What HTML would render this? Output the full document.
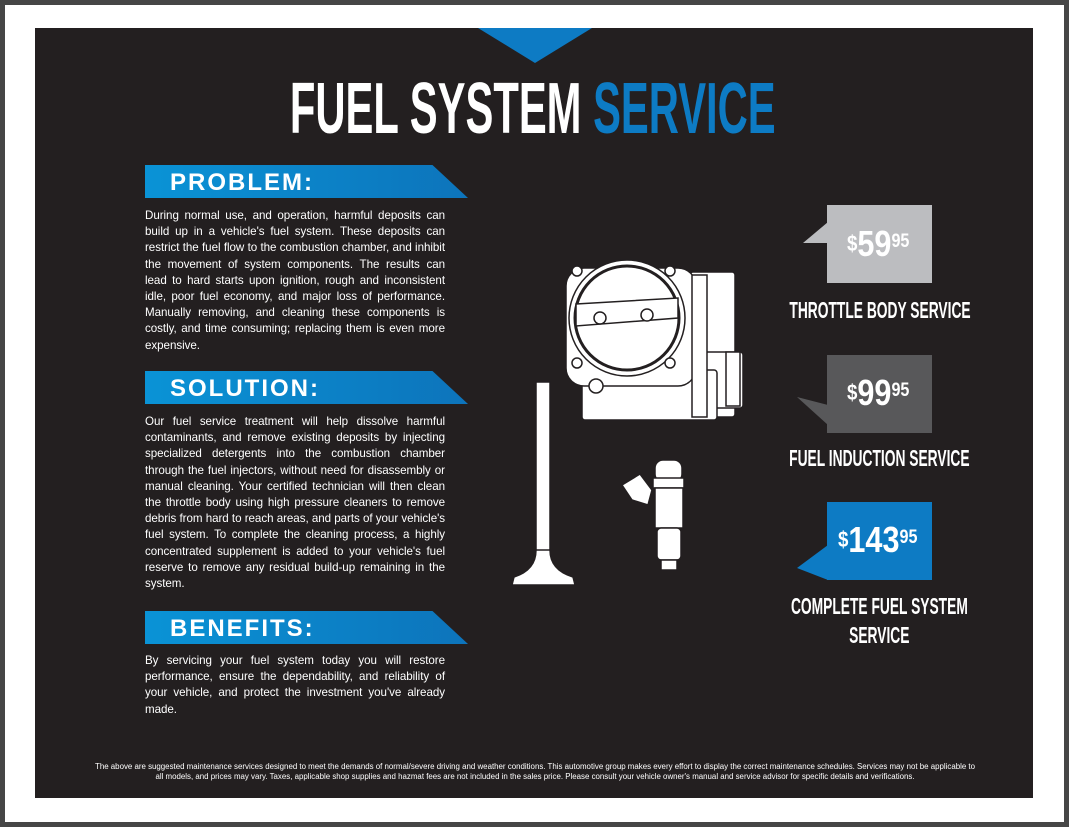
<!DOCTYPE html>
<html><head><meta charset="utf-8"><style>
*{margin:0;padding:0;box-sizing:border-box}
body{width:1069px;height:827px;background:#464646;position:relative;overflow:hidden;font-family:"Liberation Sans",sans-serif}
#white{position:absolute;left:5px;top:5px;width:1059px;height:817px;background:#fff}
#panel{position:absolute;left:35px;top:28px;width:998px;height:770px;background:#231f20}
.cond{font-family:"Liberation Sans Narrow","Liberation Sans",sans-serif;font-weight:bold}
.center{position:absolute;text-align:center;white-space:nowrap}
.center>span{display:inline-block}
.title{left:33px;width:1000px;top:66px;font-size:72px;color:#fff;line-height:86px}
.title>span{transform:scaleX(0.58)}
.title b{color:#0d7bc4}
.banner{position:absolute;left:145px;width:323px;height:33px;background:linear-gradient(90deg,#0a93d6,#0d74bb);clip-path:polygon(0 0,89% 0,100% 100%,0 100%);color:#fff;font-weight:bold;font-size:24px;letter-spacing:2px;padding-left:25px;line-height:35px}
.txt{position:absolute;left:145px;width:300px;color:#fff;font-size:11.6px;line-height:16.2px;text-align:justify;letter-spacing:-0.05px}
.foot{position:absolute;left:95px;width:880px;top:762px;color:#fff;font-size:7.9px;line-height:9.5px;text-align:center}
.lbl{left:729px;width:300px;color:#fff;font-size:23px;line-height:29px}
.lbl>span{transform:scaleX(0.6)}
.price{position:absolute;color:#fff;font-size:36px;line-height:40px;transform:scaleX(0.85);transform-origin:0 0}
.price sup{font-size:19px;vertical-align:top;position:relative;top:-2px}
.price small{font-size:22px;vertical-align:top}
</style></head><body>
<div id="white"></div>
<div id="panel"></div>
<svg style="position:absolute;left:0;top:0" width="1069" height="827">
<polygon points="478,28 592,28 535,63" fill="#0d7bc4"/>
<rect x="827" y="205" width="105" height="78" fill="#bcbdc0"/>
<polygon points="828,222 803,243 828,243" fill="#bcbdc0"/>
<rect x="827" y="355" width="105" height="78" fill="#58585a"/>
<polygon points="828,405 797,397 828,425" fill="#58585a"/>
<rect x="827" y="502" width="105" height="78" fill="#0d7bc4"/>
<polygon points="828,545 797,568 828,580" fill="#0d7bc4"/>
<g fill="#fff" stroke="#231f20" stroke-width="1.5">
<rect x="690" y="272" width="45" height="145" rx="3"/>
<rect x="693" y="352" width="50" height="56" rx="3"/>
<rect x="582" y="370" width="135" height="50" rx="3"/>
<rect x="566" y="268" width="130" height="118" rx="18"/>
<rect x="692" y="275" width="15" height="142"/>
<circle cx="627" cy="318" r="58"/>
<circle cx="627" cy="318" r="52" stroke-width="3"/>
<polygon points="576,304 678,298 678,318 576,326"/>
<circle cx="600" cy="318" r="6"/><circle cx="647" cy="315" r="6"/>
<circle cx="577" cy="271" r="5"/><circle cx="670" cy="271" r="5"/>
<circle cx="577" cy="363" r="5"/><circle cx="670" cy="363" r="5"/>
<circle cx="596" cy="386" r="7"/>
<rect x="726" y="352" width="14" height="54"/>
<rect x="536" y="382" width="14" height="185"/>
<path d="M536,550 Q536,570 514,577 L512,585 L575,585 L573,577 Q550,570 550,550 Z"/>
<rect x="655" y="460" width="27" height="22" rx="8"/>
<rect x="653" y="478" width="31" height="10"/>
<rect x="655" y="488" width="28" height="40"/>
<polygon points="622,485 640,474 652,490 648,505 632,500"/>
<rect x="657" y="528" width="24" height="32" rx="4"/>
<rect x="661" y="560" width="16" height="10"/>
</g>
</svg>
<div class="center title cond"><span>FUEL SYSTEM <b>SERVICE</b></span></div>
<div class="banner" style="top:165px">PROBLEM:</div>
<div class="txt" style="top:208px">During normal use, and operation, harmful deposits can build up in a vehicle's fuel system. These deposits can restrict the fuel flow to the combustion chamber, and inhibit the movement of system components. The results can lead to hard starts upon ignition, rough and inconsistent idle, poor fuel economy, and major loss of performance. Manually removing, and cleaning these components is costly, and time consuming; replacing them is even more expensive.</div>
<div class="banner" style="top:371px">SOLUTION:</div>
<div class="txt" style="top:414px">Our fuel service treatment will help dissolve harmful contaminants, and remove existing deposits by injecting specialized detergents into the combustion chamber through the fuel injectors, without need for disassembly or manual cleaning. Your certified technician will then clean the throttle body using high pressure cleaners to remove debris from hard to reach areas, and parts of your vehicle's fuel system. To complete the cleaning process, a highly concentrated supplement is added to your vehicle's fuel reserve to remove any residual build-up remaining in the system.</div>
<div class="banner" style="top:611px">BENEFITS:</div>
<div class="txt" style="top:653px">By servicing your fuel system today you will restore performance, ensure the dependability, and reliability of your vehicle, and protect the investment you've already made.</div>
<div class="price cond" style="left:847px;top:224px"><small>$</small>59<sup>95</sup></div>
<div class="price cond" style="left:847px;top:373px"><small>$</small>99<sup>95</sup></div>
<div class="price cond" style="left:838px;top:520px"><small>$</small>143<sup>95</sup></div>
<div class="center lbl cond" style="top:296px"><span>THROTTLE BODY SERVICE</span></div>
<div class="center lbl cond" style="top:444px"><span>FUEL INDUCTION SERVICE</span></div>
<div class="center lbl cond" style="top:592px"><span>COMPLETE FUEL SYSTEM</span></div>
<div class="center lbl cond" style="top:621px"><span>SERVICE</span></div>
<div class="foot">The above are suggested maintenance services designed to meet the demands of normal/severe driving and weather conditions. This automotive group makes every effort to display the correct maintenance schedules. Services may not be applicable to all models, and prices may vary. Taxes, applicable shop supplies and hazmat fees are not included in the sales price. Please consult your vehicle owner's manual and service advisor for specific details and verifications.</div>
</body></html>
